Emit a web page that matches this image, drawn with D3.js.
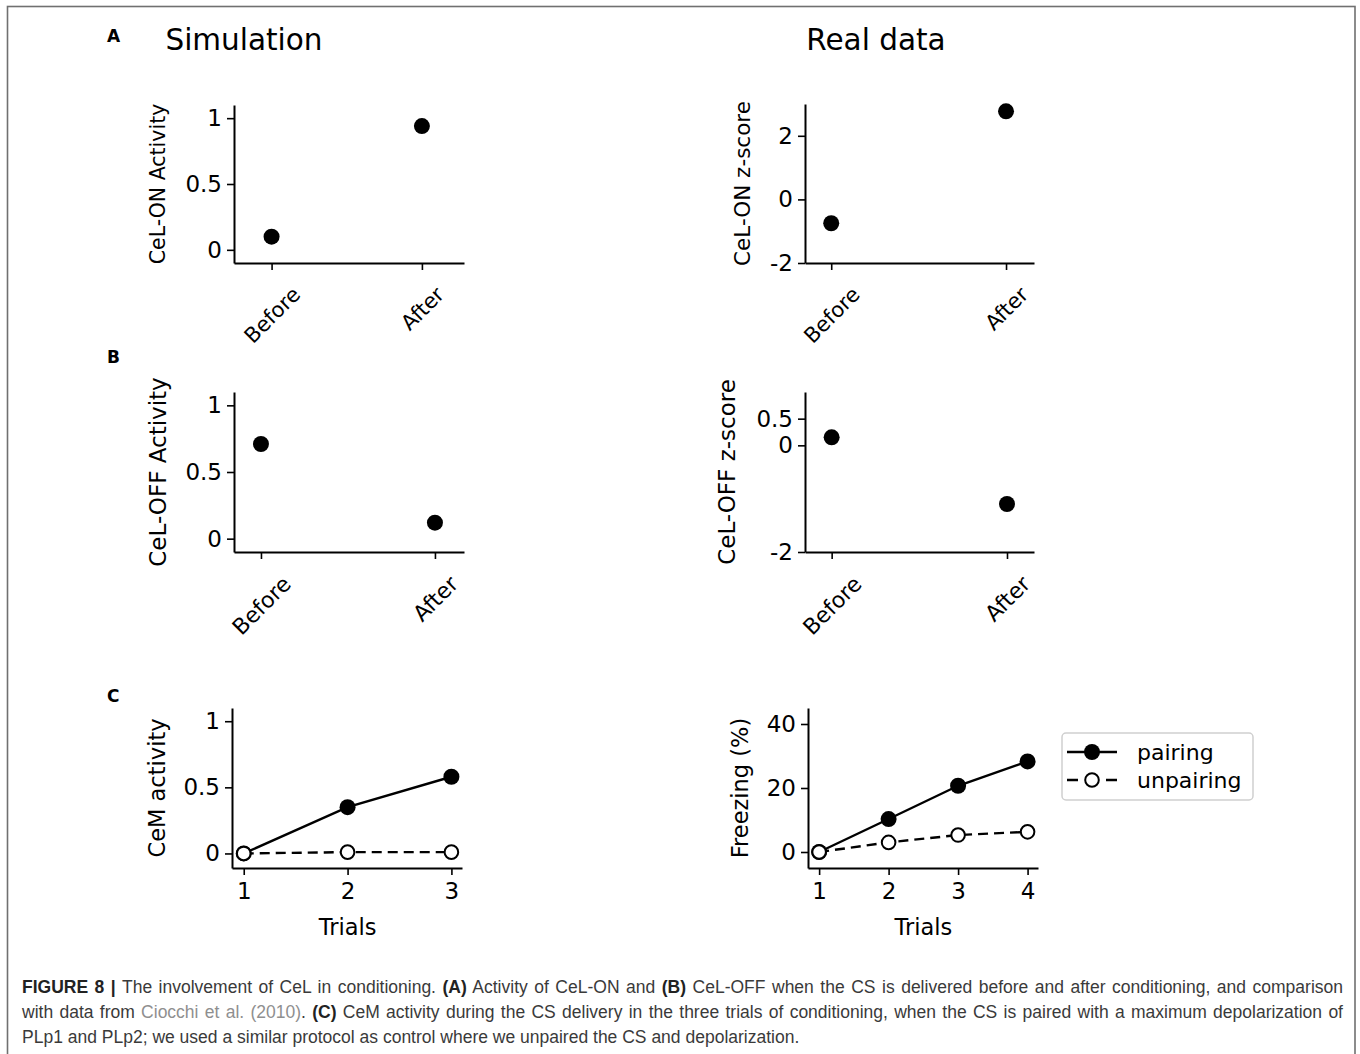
<!DOCTYPE html>
<html>
<head>
<meta charset="utf-8">
<script src="https://cdn.jsdelivr.net/npm/d3@7"></script>
<style>
  body { margin: 0; background: #fff; }
  svg { display: block; }
</style>
</head>
<body>
<svg id="fig" width="1360" height="1054"></svg>
<script>
// ---- data ----
const stages = ["Before", "After"];
const celOnSim = [0.10, 0.94];
const celOnReal = [-0.75, 2.77];
const celOffSim = [0.71, 0.12];
const celOffReal = [0.15, -1.10];

const simTrials = [1, 2, 3];
const cemPairing = [0.0, 0.35, 0.58];
const cemUnpairing = [0.0, 0.01, 0.01];

const realTrials = [1, 2, 3, 4];
const freezePairing = [0, 10.3, 20.7, 28.3];
const freezeUnpairing = [0, 3.0, 5.3, 6.3];

const seriesNames = ["pairing", "unpairing"];

const simTicks = [0, 0.5, 1];
const onZTicks = [-2, 0, 2];
const offZTicks = [-2, 0, 0.5];
const freezeTicks = [0, 20, 40];

const captionLines = [
  [["b", "FIGURE 8 |"], ["n", " The involvement of CeL in conditioning. "], ["b", "(A)"],
   ["n", " Activity of CeL-ON and "], ["b", "(B)"],
   ["n", " CeL-OFF when the CS is delivered before and after conditioning, and comparison"]],
  [["n", "with data from "], ["l", "Ciocchi et al. (2010)"], ["n", ". "], ["b", "(C)"],
   ["n", " CeM activity during the CS delivery in the three trials of conditioning, when the CS is paired with a maximum depolarization of"]],
  [["n", "PLp1 and PLp2; we used a similar protocol as control where we unpaired the CS and depolarization."]]
];

// ---- drawing ----
const svg = d3.select("#fig");
const FONT = "DejaVu Sans, Verdana, sans-serif";

// outer frame of the figure
svg.append("rect")
  .attr("x", 7.5).attr("y", 6.5)
  .attr("width", 1347.5).attr("height", 1200)
  .attr("fill", "none").attr("stroke", "#707070").attr("stroke-width", 1.6);

function styleAxis(sel, fs) {
  sel.select(".domain").attr("stroke", "#000").attr("stroke-width", 2);
  sel.selectAll(".tick line").attr("stroke", "#000").attr("stroke-width", 1.6);
  sel.selectAll(".tick text").attr("fill", "#000").style("font-family", FONT).style("font-size", fs + "px");
}

function panel(cfg) {
  const g = svg.append("g");
  const x = d3.scaleLinear().domain(cfg.xDomain).range([cfg.left, cfg.right]);
  const y = d3.scaleLinear().domain(cfg.yDomain).range([cfg.bottom, cfg.top]);

  const gy = g.append("g").attr("transform", `translate(${cfg.left},0)`)
    .call(d3.axisLeft(y).tickValues(cfg.yTicks).tickFormat(d => String(d))
      .tickSize(7).tickSizeOuter(0).tickPadding(5));
  styleAxis(gy, cfg.tickFs);

  const gx = g.append("g").attr("transform", `translate(0,${cfg.bottom})`)
    .call(d3.axisBottom(x).tickValues(cfg.xTicks).tickFormat(cfg.xFormat)
      .tickSize(7).tickSizeOuter(0).tickPadding(cfg.rotate ? 6 : 8));
  styleAxis(gx, cfg.xTickFs || cfg.tickFs);

  if (cfg.rotate) {
    // 45-degree labels, centred under the tick
    const fs = cfg.xTickFs || cfg.tickFs;
    gx.selectAll(".tick text").each(function () {
      const t = d3.select(this);
      t.attr("y", 0).attr("dy", "0.35em").attr("text-anchor", "middle");
      const w = this.getComputedTextLength();
      const half = (w + 0.76 * fs) * Math.SQRT1_2 / 2;
      t.attr("transform", `translate(0,${cfg.labelGap + half}) rotate(-45)`);
    });
  }

  // y-axis label
  g.append("text")
    .attr("transform", `translate(${cfg.ylabelX},${(cfg.top + cfg.bottom) / 2}) rotate(-90)`)
    .attr("text-anchor", "middle").attr("dominant-baseline", "central")
    .style("font-family", FONT).style("font-size", cfg.labelFs + "px")
    .text(cfg.ylabel);

  if (cfg.xlabel) {
    g.append("text")
      .attr("x", (x(cfg.xTicks[0]) + x(cfg.xTicks[cfg.xTicks.length - 1])) / 2)
      .attr("y", cfg.xlabelY)
      .attr("text-anchor", "middle")
      .style("font-family", FONT).style("font-size", cfg.labelFs + "px")
      .text(cfg.xlabel);
  }
  return { g, x, y };
}

function dots(p, xs, ys, r) {
  p.g.append("g").selectAll("circle").data(ys).join("circle")
    .attr("cx", (d, i) => p.x(xs[i])).attr("cy", d => p.y(d)).attr("r", r)
    .attr("fill", "#000");
}

function series(p, xs, ys, filled, dash) {
  const line = d3.line().x((d, i) => p.x(xs[i])).y(d => p.y(d));
  p.g.append("path").datum(ys).attr("d", line)
    .attr("fill", "none").attr("stroke", "#000").attr("stroke-width", 2.4)
    .attr("stroke-dasharray", dash ? "10,6" : null);
  p.g.append("g").selectAll("circle").data(ys).join("circle")
    .attr("cx", (d, i) => p.x(xs[i])).attr("cy", d => p.y(d))
    .attr("r", filled ? 8 : 6.8)
    .attr("fill", filled ? "#000" : "#fff")
    .attr("stroke", "#000").attr("stroke-width", filled ? 0 : 2);
}

const stageIdx = stages.map((s, i) => i);
const stageFmt = i => stages[i];

// Panel A
const aSim = panel({
  left: 234, right: 464, top: 105, bottom: 263,
  xDomain: [-0.25, 1.28], yDomain: [-0.1, 1.1],
  xTicks: stageIdx, xFormat: stageFmt, yTicks: simTicks,
  rotate: true, labelGap: 22, tickFs: 23, xTickFs: 21, labelFs: 20.5,
  ylabel: "CeL-ON Activity", ylabelX: 158
});
dots(aSim, stageIdx, celOnSim, 8);

const aReal = panel({
  left: 805, right: 1034, top: 104, bottom: 263,
  xDomain: [-0.15, 1.16], yDomain: [-2, 3],
  xTicks: stageIdx, xFormat: stageFmt, yTicks: onZTicks,
  rotate: true, labelGap: 22, tickFs: 23, xTickFs: 21, labelFs: 21.5,
  ylabel: "CeL-ON z-score", ylabelX: 742
});
dots(aReal, stageIdx, celOnReal, 8);

// Panel B
const bSim = panel({
  left: 234, right: 464, top: 392, bottom: 552,
  xDomain: [-0.155, 1.167], yDomain: [-0.1, 1.1],
  xTicks: stageIdx, xFormat: stageFmt, yTicks: simTicks,
  rotate: true, labelGap: 22, tickFs: 23, xTickFs: 22, labelFs: 23,
  ylabel: "CeL-OFF Activity", ylabelX: 158
});
dots(bSim, stageIdx, celOffSim, 8);

const bReal = panel({
  left: 805, right: 1034, top: 392, bottom: 552,
  xDomain: [-0.152, 1.154], yDomain: [-2, 1],
  xTicks: stageIdx, xFormat: stageFmt, yTicks: offZTicks,
  rotate: true, labelGap: 22, tickFs: 23, xTickFs: 22, labelFs: 23,
  ylabel: "CeL-OFF z-score", ylabelX: 727
});
dots(bReal, stageIdx, celOffReal, 8);

// Panel C
const cSim = panel({
  left: 232, right: 462, top: 708, bottom: 868,
  xDomain: [0.887, 3.102], yDomain: [-0.11, 1.1],
  xTicks: simTrials, xFormat: d => String(d), yTicks: simTicks,
  rotate: false, tickFs: 23, labelFs: 22.5,
  ylabel: "CeM activity", ylabelX: 157, xlabel: "Trials", xlabelY: 935
});
series(cSim, simTrials, cemPairing, true, false);
series(cSim, simTrials, cemUnpairing, false, true);

const cReal = panel({
  left: 808, right: 1038, top: 708, bottom: 868,
  xDomain: [0.84, 4.15], yDomain: [-5, 45],
  xTicks: realTrials, xFormat: d => String(d), yTicks: freezeTicks,
  rotate: false, tickFs: 23, labelFs: 22.5,
  ylabel: "Freezing (%)", ylabelX: 740, xlabel: "Trials", xlabelY: 935
});
series(cReal, realTrials, freezePairing, true, false);
series(cReal, realTrials, freezeUnpairing, false, true);

// Legend
const leg = svg.append("g").attr("transform", "translate(1062,733)");
leg.append("rect").attr("width", 191).attr("height", 67).attr("rx", 4)
  .attr("fill", "#fff").attr("stroke", "#cfcfcf").attr("stroke-width", 1.5);
seriesNames.forEach((name, i) => {
  const yy = 19 + i * 28;
  const filled = i === 0;
  leg.append("line").attr("x1", 5).attr("x2", 55).attr("y1", yy).attr("y2", yy)
    .attr("stroke", "#000").attr("stroke-width", 2.4)
    .attr("stroke-dasharray", filled ? null : "11,28,11");
  leg.append("circle").attr("cx", 30).attr("cy", yy).attr("r", filled ? 8 : 6.8)
    .attr("fill", filled ? "#000" : "#fff").attr("stroke", "#000")
    .attr("stroke-width", filled ? 0 : 2);
  leg.append("text").attr("x", 75).attr("y", yy).attr("dominant-baseline", "central")
    .style("font-family", FONT).style("font-size", "22px").text(name);
});

// Titles and panel letters
svg.append("text").attr("x", 244).attr("y", 50).attr("text-anchor", "middle")
  .style("font-family", FONT).style("font-size", "29.5px").text("Simulation");
svg.append("text").attr("x", 876).attr("y", 50).attr("text-anchor", "middle")
  .style("font-family", FONT).style("font-size", "29.5px").text("Real data");
[["A", 42], ["B", 363], ["C", 702]].forEach(([lab, yy]) => {
  svg.append("text").attr("x", 107).attr("y", yy)
    .style("font-family", FONT).style("font-weight", "bold").style("font-size", "17px")
    .text(lab);
});

// Caption
const CAP_FONT = "Liberation Sans, Arial, Helvetica, sans-serif";
const capLeft = 22, capRight = 1343;
const capBase = [993, 1018, 1043];
captionLines.forEach((segs, li) => {
  const t = svg.append("text").attr("x", capLeft).attr("y", capBase[li])
    .style("font-family", CAP_FONT).style("font-size", "17.5px").attr("fill", "#3a3a3a");
  segs.forEach(([kind, str]) => {
    t.append("tspan").text(str)
      .style("font-weight", kind === "b" ? "bold" : "normal")
      .attr("fill", kind === "l" ? "#8f8f8f" : (kind === "b" ? "#222" : "#3a3a3a"));
  });
  if (li < captionLines.length - 1) {
    // justify full lines
    const w = t.node().getComputedTextLength();
    const spaces = segs.map(s => s[1]).join("").split(" ").length - 1;
    t.style("word-spacing", ((capRight - capLeft - w) / spaces) + "px");
  }
});
</script>
</body>
</html>
